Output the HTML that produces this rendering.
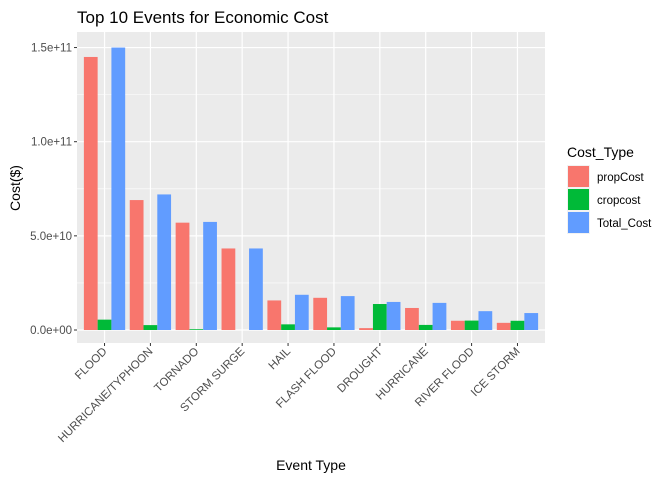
<!DOCTYPE html>
<html><head><meta charset="utf-8"><style>
body{margin:0;background:#fff;font-family:"Liberation Sans",sans-serif}
</style></head><body>
<svg width="672" height="480" xmlns="http://www.w3.org/2000/svg" font-family="Liberation Sans, sans-serif">
<rect width="672" height="480" fill="#fff"/>
<text x="77" y="23" font-size="17" fill="#000">Top 10 Events for Economic Cost</text>
<rect x="77" y="32" width="468" height="311" fill="#ebebeb"/>
<g id="grid"></g><g id="bars"></g><g id="axes"></g>
<text transform="translate(20,188) rotate(-90)" text-anchor="middle" font-size="14">Cost($)</text>
<text x="311" y="470" text-anchor="middle" font-size="14">Event Type</text>
<g>
<text x="567" y="157" font-size="14">Cost_Type</text>
<g id="legend"></g>
</g>
</svg>
<script>
const categories=["FLOOD","HURRICANE/TYPHOON","TORNADO","STORM SURGE","HAIL","FLASH FLOOD","DROUGHT","HURRICANE","RIVER FLOOD","ICE STORM"];
const propCost=[14.5,6.9,5.7,4.33,1.57,1.71,0.1,1.17,0.49,0.38];
const cropCost=[0.55,0.26,0.04,0.0,0.3,0.14,1.38,0.27,0.5,0.49];
const totalCost=[15.0,7.2,5.74,4.33,1.87,1.8,1.49,1.44,1.0,0.9];
const yTicks=[0,5,10,15];
const yTickLabels=["0.0e+00","5.0e+10","1.0e+11","1.5e+11"];
const seriesNames=["propCost","cropcost","Total_Cost"];
const colors=["#F8766D","#00BA38","#619CFF"];
const NS="http://www.w3.org/2000/svg";
const L=77,R=545,T=32,B=343,zeroY=330,unit=18.83;
const y=v=>zeroY-v*unit;
const bw=(R-L)/10.2;
const x=i=>L+(0.6+i)*bw;
function mk(tag,attrs,parent){const e=document.createElementNS(NS,tag);for(const k in attrs)e.setAttribute(k,attrs[k]);parent.appendChild(e);return e;}
const grid=document.getElementById('grid'),bars=document.getElementById('bars'),axes=document.getElementById('axes'),leg=document.getElementById('legend');
for(let k=0;k<yTicks.length-1;k++){const v=(yTicks[k]+yTicks[k+1])/2;const l=mk('line',{x1:L,x2:R,y1:y(v),y2:y(v),stroke:'#fff','stroke-width':0.6},grid);}
yTicks.forEach((v,k)=>{const l=mk('line',{x1:L,x2:R,y1:y(v),y2:y(v),stroke:'#fff','stroke-width':1.2},grid);
const t=mk('line',{x1:L-3,x2:L,y1:y(v),y2:y(v),stroke:'#333','stroke-width':1},axes);
const tx=mk('text',{x:L-5,y:y(v)+4,'text-anchor':'end','font-size':11.5,fill:'#4d4d4d'},axes);tx.textContent=yTickLabels[k];});
const series=[propCost,cropCost,totalCost];
categories.forEach((c,i)=>{const cx=x(i);
const g=mk('line',{x1:cx,x2:cx,y1:T,y2:B,stroke:'#fff','stroke-width':1.2},grid);
const w=bw*0.3;
series.forEach((s,j)=>{const x0=cx-1.5*w+j*w;const top=y(s[i]);const r=mk('rect',{x:x0,y:Math.min(top,zeroY),width:w,height:Math.abs(zeroY-top),fill:colors[j]},bars);});
const t=mk('line',{x1:cx,x2:cx,y1:B,y2:B+3,stroke:'#333'},axes);
const tx=mk('text',{transform:`translate(${cx+3},${B+9}) rotate(-45)`,'text-anchor':'end','font-size':11.5,fill:'#4d4d4d'},axes);tx.textContent=c;});
seriesNames.forEach((n,j)=>{const yy=165+j*23;
const bg=mk('rect',{x:567,y:yy,width:23,height:23,fill:'#f2f2f2'},leg);
const r=mk('rect',{x:568,y:yy+1,width:21,height:21,fill:colors[j]},leg);
const t=mk('text',{x:597,y:yy+16,'font-size':11.5,fill:'#000'},leg);t.textContent=n;});
</script>
</body></html>
